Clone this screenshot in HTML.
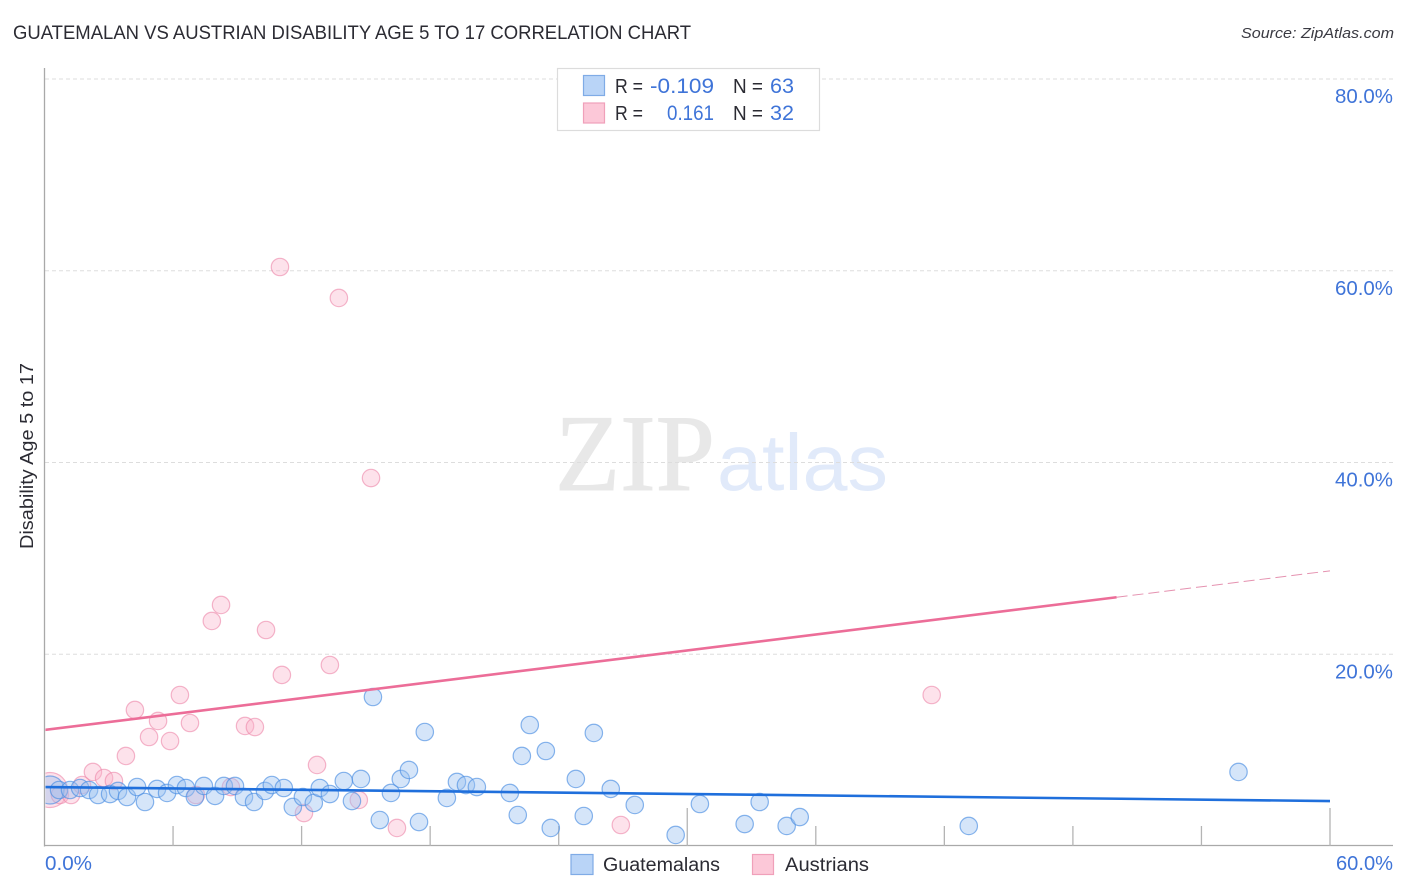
<!DOCTYPE html>
<html lang="en">
<head>
<meta charset="utf-8">
<title>Guatemalan vs Austrian Disability Age 5 to 17 Correlation Chart</title>
<style>
html,body{margin:0;padding:0;background:#fff;width:1406px;height:892px;overflow:hidden}
svg{display:block;font-family:"Liberation Sans",sans-serif}
.blue{fill:#3f74d8}
.dark{fill:#2b2b33}
</style>
</head>
<body>
<svg id="chart" xmlns="http://www.w3.org/2000/svg" width="1406" height="892" viewBox="0 0 1406 892">
  <defs>
    <clipPath id="plot-clip"><rect x="45.5" y="60" width="1340" height="786"/></clipPath>
  </defs>
  <rect x="0" y="0" width="1406" height="892" fill="#ffffff"/>
  <text x="13" y="39" font-size="19" textLength="678" lengthAdjust="spacingAndGlyphs" class="dark">GUATEMALAN VS AUSTRIAN DISABILITY AGE 5 TO 17 CORRELATION CHART</text>
  <text x="1241" y="38" font-size="15" font-style="italic" textLength="153" lengthAdjust="spacingAndGlyphs" fill="#3a3a42">Source: ZipAtlas.com</text>

  <g>
    <text x="555" y="490" font-family="'Liberation Serif',serif" font-size="109" textLength="160" lengthAdjust="spacingAndGlyphs" fill="#e8e8e8" stroke="#e8e8e8" stroke-width="1">ZIP</text>
    <text x="717" y="490" font-size="80" textLength="171" lengthAdjust="spacingAndGlyphs" fill="#e1eafa">atlas</text>
  </g>

  <g id="grid"></g>
  <g id="axes"></g>
  <g clip-path="url(#plot-clip)">
    <g id="points-austrians"></g>
    <g id="points-guatemalans"></g>
    <g id="trends"></g>
  </g>
  <g id="labels"></g>

  <text transform="translate(33 456) rotate(-90)" text-anchor="middle" font-size="18" textLength="186" lengthAdjust="spacingAndGlyphs" class="dark">Disability Age 5 to 17</text>

  <g>
    <rect x="557.5" y="68.5" width="262" height="62" fill="#ffffff" stroke="#dcdcdc" stroke-width="1.2"/>
    <rect x="583.5" y="75.5" width="21" height="20" fill="#b9d4f7" stroke="#7fabe6" stroke-width="1.2"/>
    <text x="615" y="93" font-size="20" textLength="28" lengthAdjust="spacingAndGlyphs" class="dark">R =</text>
    <text x="650" y="93" font-size="21" textLength="64" lengthAdjust="spacingAndGlyphs" class="blue">-0.109</text>
    <text x="733" y="93" font-size="20" textLength="30" lengthAdjust="spacingAndGlyphs" class="dark">N =</text>
    <text x="770" y="93" font-size="21" textLength="24" lengthAdjust="spacingAndGlyphs" class="blue">63</text>
    <rect x="583.5" y="103" width="21" height="20" fill="#fcc8d8" stroke="#f0a0ba" stroke-width="1.2"/>
    <text x="615" y="120" font-size="20" textLength="28" lengthAdjust="spacingAndGlyphs" class="dark">R =</text>
    <text x="667" y="120" font-size="21" textLength="47" lengthAdjust="spacingAndGlyphs" class="blue">0.161</text>
    <text x="733" y="120" font-size="20" textLength="30" lengthAdjust="spacingAndGlyphs" class="dark">N =</text>
    <text x="770" y="120" font-size="21" textLength="24" lengthAdjust="spacingAndGlyphs" class="blue">32</text>
  </g>

  <g>
    <rect x="571" y="854.5" width="22" height="20" fill="#b9d4f7" stroke="#7fabe6" stroke-width="1.2"/>
    <text x="603" y="871" font-size="19" textLength="117" lengthAdjust="spacingAndGlyphs" class="dark">Guatemalans</text>
    <rect x="752.5" y="854.5" width="21" height="20" fill="#fcc8d8" stroke="#f0a0ba" stroke-width="1.2"/>
    <text x="785" y="871" font-size="19" textLength="84" lengthAdjust="spacingAndGlyphs" class="dark">Austrians</text>
  </g>
</svg>
<script>
const guatemalanX = [0.26,0.68,1.19,1.66,2.08,2.50,3.06,3.43,3.85,4.32,4.69,5.25,5.72,6.18,6.60,7.02,7.44,7.96,8.37,8.89,9.31,9.78,10.29,10.61,11.17,11.59,12.06,12.57,12.85,13.32,13.97,14.35,14.77,15.33,15.65,16.17,16.63,17.01,17.48,17.75,18.78,19.25,19.67,20.18,21.72,22.09,22.28,22.65,23.40,23.63,24.80,25.17,25.64,26.43,27.55,29.46,30.59,32.68,33.38,34.64,35.25,43.14,55.73];
const guatemalanY = [5.84,5.84,5.84,6.05,5.84,5.32,5.42,5.74,5.11,6.15,4.59,5.95,5.53,6.36,6.05,5.11,6.26,5.22,6.26,6.26,5.11,4.59,5.74,6.36,6.05,4.07,5.11,4.49,6.05,5.42,6.78,4.69,6.99,15.54,2.71,5.53,6.99,7.93,2.50,11.89,5.01,6.68,6.36,6.15,5.53,3.23,9.39,12.62,9.91,1.88,6.99,3.13,11.79,5.95,4.28,1.15,4.38,2.29,4.59,2.09,3.02,2.09,7.72];
const austrianX = [0.26,0.72,1.24,1.75,2.26,2.78,3.24,3.80,4.22,4.88,5.30,5.86,6.32,6.79,7.07,7.81,8.24,8.70,9.36,9.82,10.34,10.99,11.08,12.11,12.72,13.32,13.74,14.67,15.24,16.45,26.90,41.41];
const austrianY = [5.84,5.32,5.32,6.36,7.72,7.09,6.78,9.39,14.19,11.37,13.04,10.95,15.75,12.83,5.32,23.47,25.14,6.15,12.52,12.41,22.53,60.39,17.84,3.44,8.45,18.88,57.16,4.80,38.38,1.88,2.19,15.75];
const guatemalanTrend = [6.15, 4.69];
const austrianTrend = [12.1, 28.7];
const austrianDataEnd = 50.04;
const yTicks = [20, 40, 60, 80];
const yTickLabels = ["20.0%", "40.0%", "60.0%", "80.0%"];
const xTicks = [0, 6, 12, 18, 24, 30, 36, 42, 48, 54, 60];
const xEndLabels = ["0.0%", "60.0%"];
const tallTicks = [30, 60];

const NS = "http://www.w3.org/2000/svg";
function xScale(v) { return 44.5 + v * (1330 - 44.5) / 60; }
function yScale(v) { return 846 - v * (846 - 79) / 80; }
function make(tag, attrs, parent) {
  const el = document.createElementNS(NS, tag);
  for (const k in attrs) el.setAttribute(k, attrs[k]);
  parent.appendChild(el);
  return el;
}

const grid = document.getElementById("grid");
const axes = document.getElementById("axes");
const labels = document.getElementById("labels");

yTicks.forEach(function (t, i) {
  const line = make("line", {x1: 45, x2: 1394, y1: yScale(t), y2: yScale(t), stroke: "#dddddd", "stroke-width": 1, "stroke-dasharray": "4 3"}, grid);
  
  
  const label = make("text", {x: 1393, y: yScale(t) + 24, "text-anchor": "end", "font-size": 20, textLength: 58, lengthAdjust: "spacingAndGlyphs", class: "blue"}, labels);
  label.textContent = yTickLabels[i];
  
  
});

const yAxis = make("line", {x1: 44.5, x2: 44.5, y1: 68, y2: 846.5, stroke: "#a9a9a9", "stroke-width": 1.3}, axes);


const xAxis = make("line", {x1: 44, x2: 1393, y1: 845.5, y2: 845.5, stroke: "#a9a9a9", "stroke-width": 1.3}, axes);



xTicks.forEach(function (t) {
  if (t === 0) return;
  const top = tallTicks.indexOf(t) >= 0 ? 808 : 826;
  const tick = make("line", {x1: xScale(t), x2: xScale(t), y1: top, y2: 846, stroke: "#b4b4b4", "stroke-width": 1.3}, axes);
  
  
});

const xStart = make("text", {x: 45, y: 870, "font-size": 20, textLength: 47, lengthAdjust: "spacingAndGlyphs", class: "blue"}, labels);
xStart.textContent = xEndLabels[0];


const xEnd = make("text", {x: 1393, y: 870, "text-anchor": "end", "font-size": 20, textLength: 57, lengthAdjust: "spacingAndGlyphs", class: "blue"}, labels);
xEnd.textContent = xEndLabels[1];



const pAus = document.getElementById("points-austrians");
austrianX.forEach(function (v, i) {
  const c = make("circle", {cx: xScale(v), cy: yScale(austrianY[i]), r: i === 0 ? 17.5 : 8.7, fill: "#f9b4ca", "fill-opacity": 0.38, stroke: "#ec86a8", "stroke-opacity": 0.6, "stroke-width": 1.2}, pAus);
  
  
});

const pGua = document.getElementById("points-guatemalans");
guatemalanX.forEach(function (v, i) {
  const c = make("circle", {cx: xScale(v), cy: yScale(guatemalanY[i]), r: i === 0 ? 14 : 8.7, fill: "#9cc2f1", "fill-opacity": 0.42, stroke: "#4a8de2", "stroke-opacity": 0.65, "stroke-width": 1.2}, pGua);
  
  
});

const trends = document.getElementById("trends");
function lerp(a, t) { return a[0] + (a[1] - a[0]) * t / 60; }

const blueLine = make("line", {x1: xScale(0), y1: yScale(lerp(guatemalanTrend, 0)), x2: xScale(60), y2: yScale(lerp(guatemalanTrend, 60)), stroke: "#1f6fdc", "stroke-width": 2.6}, trends);



const pinkLine = make("line", {x1: xScale(0), y1: yScale(lerp(austrianTrend, 0)), x2: xScale(austrianDataEnd), y2: yScale(lerp(austrianTrend, austrianDataEnd)), stroke: "#ec6d98", "stroke-width": 2.6}, trends);



const pinkDash = make("line", {x1: xScale(austrianDataEnd), y1: yScale(lerp(austrianTrend, austrianDataEnd)), x2: xScale(60), y2: yScale(lerp(austrianTrend, 60)), stroke: "#e592b0", "stroke-width": 1, "stroke-dasharray": "11 5"}, trends);


</script>
</body>
</html>
